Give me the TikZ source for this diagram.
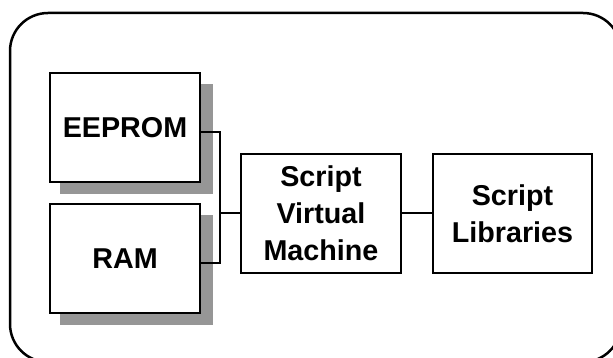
\documentclass[tikz,border=0pt]{standalone}
\usepackage{fontspec}
\setmainfont{Liberation Sans}
\definecolor{shadowgray}{RGB}{150,150,150}
\begin{document}
\begin{tikzpicture}[x=1pt,y=-1pt,
  blockbox/.style={draw=black, line width=2.7pt, fill=white, inner sep=0pt,
    align=center, font=\bfseries\fontsize{28.7}{36.8}\selectfont},
  memblock/.style={blockbox, minimum width=150pt, minimum height=109pt},
  coreblock/.style={blockbox, minimum width=160pt, minimum height=119pt},
  wire/.style={draw=black, line width=2pt},
  dropshadow/.style={fill=shadowgray, draw=none}]
  \useasboundingbox (0,0) rectangle (613,358);
  \clip (0,0) rectangle (613,358);

  % enclosing frame
  \draw[line width=2.5pt, rounded corners=38pt] (10,13) rectangle (621,362);

  % memory shadows
  \fill[dropshadow] (60,84) rectangle (212.5,194);
  \fill[dropshadow] (60,215) rectangle (212.5,325);

  % blocks
  \node[memblock] (eeprom) at (125,127.5) {EEPROM};
  \node[memblock] (ram)    at (125,258.5) {RAM};
  \node[coreblock] (vm)    at (321,213.5) {Script\\Virtual\\Machine};
  \node[coreblock, minimum width=159pt] (lib) at (512.5,213.5) {Script\\Libraries};

  % bus joining the memories to the virtual machine
  \coordinate (bus) at (220,213);
  \draw[wire] ([yshift=-4.5pt]eeprom.east) -| (bus) |- ([yshift=-4.5pt]ram.east);
  \draw[wire] (bus) -- (vm.west |- bus);
  \draw[wire] (vm.east |- bus) -- (lib.west |- bus);
\end{tikzpicture}
\end{document}
